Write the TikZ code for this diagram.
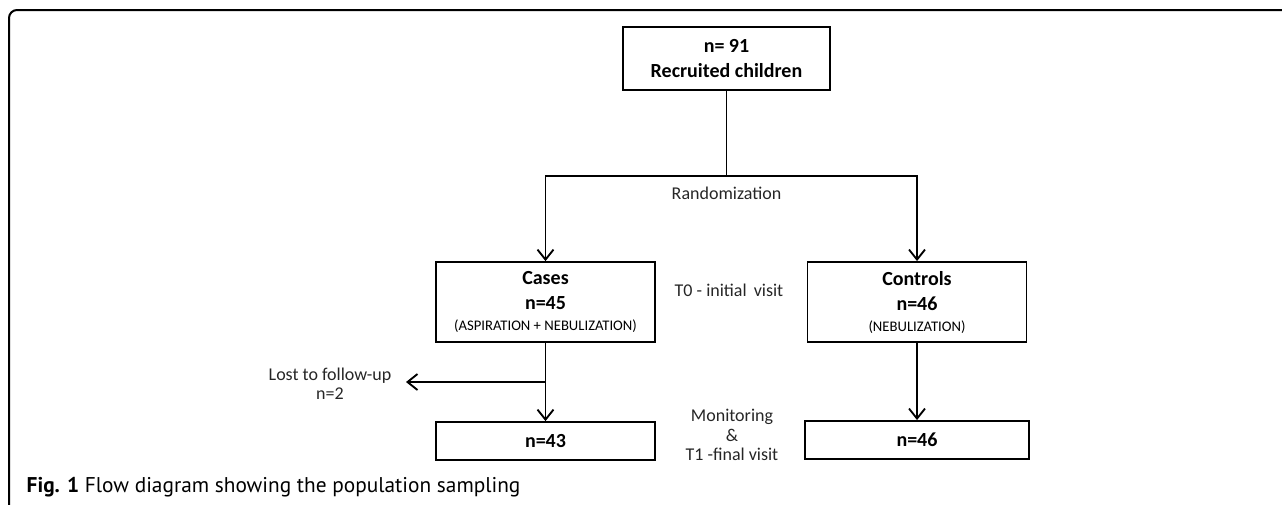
\documentclass[tikz,border=0pt]{standalone}
\usepackage{fontspec}
\setmainfont{Carlito}
\newfontfamily\capfont{PT Sans}
\usetikzlibrary{positioning,arrows.meta}
\tikzset{
  box/.style={draw,line width=1.4pt,inner sep=0pt,align=center,
    font=\fontsize{15}{18.75}\selectfont\bfseries},
  link/.style={line width=1.4pt},
  arr/.style={link,-{Straight Barb[length=7.5pt,width=12pt,line width=1.4pt]}},
  lbl/.style={font=\fontsize{13.5}{14.5}\selectfont,text=black!85,align=center},
  frame/.style={line width=1.5pt,rounded corners=6pt},
}
\newcommand{\subtxt}[1]{{\fontsize{11}{13}\mdseries\selectfont #1}}

\begin{document}
\begin{tikzpicture}[x=0.75pt,y=-0.75pt]
  \useasboundingbox (0,0) rectangle (1282,504);
  % outer frame, cut by the page
  \begin{scope}
    \clip (0,0) rectangle (1282,504);
    \draw[frame] (1300,10) -- (9,10) -- (9,520);
  \end{scope}
  % boxes
  \node[box,minimum width=155.25pt,minimum height=47.25pt] (top) at (726.5,58.5) {n= 91\\Recruited children};
  \node[box,minimum width=164.25pt,minimum height=60pt] (cases) at (545.5,302) {Cases\\n=45\\[-3pt]\subtxt{(ASPIRATION + NEBULIZATION)}};
  \node[box,minimum width=164.25pt,minimum height=60pt] (controls) at (917,302) {Controls\\n=46\\[-3pt]\subtxt{(NEBULIZATION)}};
  \node[box,minimum width=164.25pt,minimum height=28.5pt] (cases2) at (545.5,441) {n=43};
  \node[box,minimum width=168pt,minimum height=28.5pt] (controls2) at (917,440) {n=46};
  % labels
  \node[lbl] (rand) at (726.5,193) {Randomization};
  \node[lbl] (visit0) at (729,290) {T0 - initial\, visit};
  \node[lbl] (visit1) at (732,435) {Monitoring\\\&\\T1 -final visit};
  \node[lbl] (lost) at (330,384) {Lost to follow-up\\n=2};
  \coordinate (split) at (726.5,176);
  \coordinate (losttip) at (406,382);
  % connectors
  \draw[link] (top.south) -- (split);
  \draw[arr] (split) -| (cases.north);
  \draw[arr] (split) -| (controls.north);
  \draw[arr] (cases.south) -- (cases2.north);
  \draw[arr] (cases.south |- losttip) -- (losttip);
  \draw[arr] (controls.south) -- (controls2.north);
  % caption
  \node[anchor=west,font=\capfont\fontsize{16}{19}\selectfont] (caption) at (22,487) {\textbf{Fig. 1} Flow diagram showing the population sampling};
\end{tikzpicture}
\end{document}
